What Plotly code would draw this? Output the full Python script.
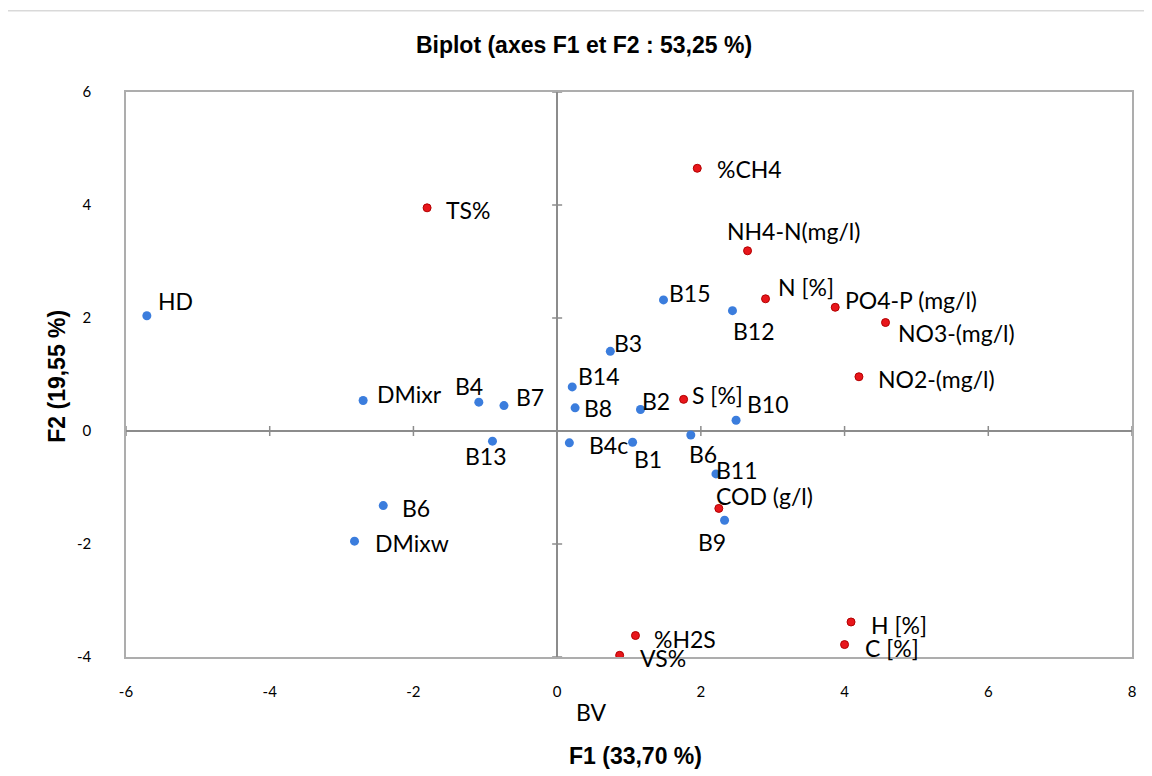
import plotly.graph_objects as go

# ---- data ----
obs_names = ["HD", "DMixr", "B4", "B7", "B13", "B6", "DMixw", "B15", "B12", "B3",
             "B14", "B8", "B2", "B10", "B4c", "B1", "B6", "B11", "B9"]
obs_f1 = [-5.71, -2.70, -1.09, -0.74, -0.90, -2.42, -2.82, 1.48, 2.44, 0.74,
          0.21, 0.25, 1.16, 2.49, 0.17, 1.05, 1.86, 2.21, 2.33]
obs_f2 = [2.04, 0.54, 0.51, 0.45, -0.18, -1.32, -1.95, 2.32, 2.13, 1.41,
          0.78, 0.41, 0.38, 0.19, -0.21, -0.20, -0.07, -0.76, -1.58]

# observation lying outside the displayed range (only its label is visible)
out_names = ["BV"]
out_f1 = [0.10]
out_f2 = [-4.93]

var_names = ["TS%", "%CH4", "NH4-N(mg/l)", "N [%]", "PO4-P (mg/l)", "NO3-(mg/l)",
             "NO2-(mg/l)", "S [%]", "COD (g/l)", "%H2S", "VS%", "H [%]", "C [%]"]
var_f1 = [-1.81, 1.95, 2.65, 2.90, 3.87, 4.57, 4.20, 1.76, 2.25, 1.09, 0.87, 4.09, 4.00]
var_f2 = [3.95, 4.65, 3.19, 2.34, 2.19, 1.92, 0.96, 0.56, -1.37, -3.62, -3.97, -3.38, -3.78]

x_ticks = [-6, -4, -2, 0, 2, 4, 6, 8]
y_ticks = [-4, -2, 0, 2, 4, 6]

title_text = "Biplot (axes F1 et F2 : 53,25 %)"
x_title = "F1 (33,70 %)"
y_title = "F2 (19,55 %)"

# ---- label placement (pixel offsets: left edge dx, vertical centre dy, down positive) ----
obs_label_off = [(12, -15), (15, -6), (-23, -16), (13, -9), (-26, 15), (20, 2), (21, 2),
                 (7, -7), (2, 20), (5, -8), (7, -11), (10, 0), (2, -9), (12, -16),
                 (21, 2), (2, 17), (-1, 19), (1, -4), (-26, 22)]
var_label_off = [(20, 2), (21, 1), (-20, -20), (13, -12), (11, -7), (13, 10), (20, 2),
                 (9, -4), (-2, -12), (20, 3), (21, 3), (21, 3), (21, 3)]
out_label_off = [(13, 55)]  # relative to bottom of plot area

BLUE = "#3B7DDD"
RED = "#E8161B"
LABEL_FONT = dict(family="Lato, Carlito, Calibri, sans-serif", size=23, color="#000000")
TICK_FONT = dict(family="Lato, Carlito, Calibri, sans-serif", size=15, color="#000000")
TITLE_FONT = dict(family="Liberation Sans, Arial, sans-serif", size=23, color="#000000")

fig = go.Figure()

fig.add_trace(go.Scatter(
    x=obs_f1 + out_f1, y=obs_f2 + out_f2, mode="markers", cliponaxis=True,
    marker=dict(color=BLUE, size=9, line=dict(width=0)),
    hovertext=obs_names + out_names, showlegend=False,
))
fig.add_trace(go.Scatter(
    x=var_f1, y=var_f2, mode="markers", cliponaxis=True,
    marker=dict(color=RED, size=8, line=dict(width=1, color="#B30000")),
    hovertext=var_names, showlegend=False,
))

annotations = []
for names, xs, ys, offs in [(obs_names, obs_f1, obs_f2, obs_label_off),
                            (var_names, var_f1, var_f2, var_label_off)]:
    for n, xv, yv, (dx, dy) in zip(names, xs, ys, offs):
        annotations.append(dict(
            x=xv, y=yv, xref="x", yref="y", text=n, showarrow=False,
            xanchor="left", yanchor="middle", xshift=dx - 2, yshift=-dy,
            font=LABEL_FONT, borderpad=0,
        ))
# label of the out-of-range observation (its marker is clipped, as in the reference)
for n, xv, (dx, dy) in zip(out_names, out_f1, out_label_off):
    annotations.append(dict(
        x=xv, y=0, xref="x", yref="paper", text=n, showarrow=False,
        xanchor="left", yanchor="middle", xshift=dx - 2, yshift=-dy,
        font=LABEL_FONT, borderpad=0,
    ))

annotations.append(dict(
    x=0.506, y=0, xref="paper", yref="paper", text="<b>" + x_title + "</b>",
    showarrow=False, xanchor="center", yanchor="middle", yshift=-99, font=TITLE_FONT,
))
annotations.append(dict(
    x=0, y=0.496, xref="paper", yref="paper", text="<b>" + y_title + "</b>",
    showarrow=False, xanchor="center", yanchor="middle", xshift=-69, textangle=-90,
    font=TITLE_FONT,
))

shapes = []
# outer chart frame
shapes.append(dict(type="rect", xref="paper", yref="paper", x0=-0.1183, x1=1.06,
                   y0=-0.3, y1=1.1439, line=dict(color="#D9D9D9", width=1.5),
                   layer="below"))
# cross tick marks on the zero axes
for t in x_ticks:
    shapes.append(dict(type="line", xref="x", yref="y", x0=t, x1=t,
                       ysizemode="pixel", yanchor=0, y0=-5, y1=5,
                       line=dict(color="#8C8C8C", width=1.5)))
for t in y_ticks:
    shapes.append(dict(type="line", xref="x", yref="y", y0=t, y1=t,
                       xsizemode="pixel", xanchor=0, x0=-5, x1=5,
                       line=dict(color="#8C8C8C", width=1.5)))

# page body has an 8px margin: margins are reduced accordingly
fig.update_layout(
    width=1152, height=776,
    margin=dict(l=118, r=28, t=84, b=127),
    paper_bgcolor="white", plot_bgcolor="white",
    title=dict(text="<b>" + title_text + "</b>", x=(584 - 8) / 1152, xref="container",
               xanchor="center", y=1 - (45 - 8) / 776, yref="container", yanchor="middle",
               font=TITLE_FONT),
    annotations=annotations,
    shapes=shapes,
    showlegend=False,
)
fig.update_xaxes(
    range=[-6, 8], tickvals=x_ticks, ticktext=[str(t) for t in x_ticks],
    showgrid=False, zeroline=True, zerolinecolor="#8C8C8C", zerolinewidth=1.5,
    showline=True, mirror=True, linecolor="#ADADAD", linewidth=1.5,
    ticks="", ticklabelstandoff=20, tickfont=TICK_FONT,
)
fig.update_yaxes(
    range=[-4, 6], tickvals=y_ticks, ticktext=[str(t) for t in y_ticks],
    showgrid=False, zeroline=True, zerolinecolor="#8C8C8C", zerolinewidth=1.5,
    showline=True, mirror=True, linecolor="#ADADAD", linewidth=1.5,
    ticks="", ticklabelstandoff=30, tickfont=TICK_FONT,
)

fig.write_html("out.html")
